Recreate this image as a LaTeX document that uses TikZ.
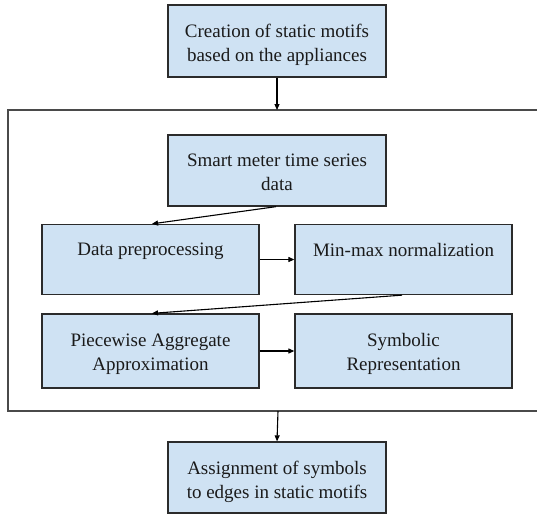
\documentclass[tikz,border=0pt]{standalone}
\usepackage{fontspec}
\setmainfont{Liberation Serif}
\usetikzlibrary{arrows.meta,calc}
\definecolor{boxfill}{HTML}{CFE2F3}
\definecolor{boxline}{HTML}{2B2B2B}
\definecolor{frameline}{HTML}{4A4A4A}
\definecolor{txt}{HTML}{1A1A1A}
\tikzset{
  stepbox/.style={draw=boxline, line width=1.3pt, fill=boxfill, minimum width=218pt, inner sep=0pt},
  lbl/.style={anchor=north, align=center, inner sep=0pt, text=txt, font=\fontsize{19}{24}\selectfont},
  conn/.style={draw=black, line width=1.1pt, -{Triangle[length=6pt,width=5pt]}},
  framebox/.style={draw=frameline, line width=1.8pt, inner sep=0pt}
}
\begin{document}
\begin{tikzpicture}[x=1pt,y=-1pt]
\useasboundingbox[fill=white] (0,0) rectangle (537,515);
% outer frame (its right side runs off the page)
\node[framebox, minimum width=542pt, minimum height=301pt] (frame) at (279,260.5) {};
% boxes
\node[stepbox, minimum height=72pt] (top) at (277,41) {};
\node[stepbox, minimum height=71pt] (smart) at (277,170.5) {};
\node[stepbox, minimum width=217pt, minimum height=70pt] (data) at (150.5,259.5) {};
\node[stepbox, minimum width=217pt, minimum height=70pt] (mm) at (403.5,259.5) {};
\node[stepbox, minimum width=217pt, minimum height=74pt] (paa) at (150.5,351) {};
\node[stepbox, minimum width=217pt, minimum height=74pt] (sym) at (403.5,351) {};
\node[stepbox, minimum height=71pt] (bot) at (277,477.5) {};
% labels
\node[lbl] (topt) at ($(top.north)+(0,20)$) {Creation of static motifs\\based on the appliances};
\node[lbl] (smartt) at ($(smart.north)+(0,19)$) {Smart meter time series\\data};
\node[lbl] (datat) at ($(data.north)+(0,19)$) {Data preprocessing};
\node[lbl] (mmt) at ($(mm.north)+(0,19)$) {Min-max normalization};
\node[lbl] (paat) at ($(paa.north)+(0,20)$) {Piecewise Aggregate\\Approximation};
\node[lbl] (symt) at ($(sym.north)+(0,20)$) {Symbolic\\Representation};
\node[lbl] (bott) at ($(bot.north)+(0,20)$) {Assignment of symbols\\to edges in static motifs};
% connector end points on the frame
\coordinate (fin) at (277,110);
\coordinate (fout) at (278,411);
% connectors
\draw[conn] (top.south) -- (fin);
\draw[conn] ($(smart.south)+(-1,0)$) -- ($(data.north)+(1.5,0)$);
\draw[conn] (data.east) -- (mm.west);
\draw[conn] ($(mm.south)+(-1.5,0)$) -- ($(paa.north)+(1.5,0)$);
\draw[conn] (paa.east) -- (sym.west);
\draw[conn] (fout) -- (bot.north);
\end{tikzpicture}
\end{document}
